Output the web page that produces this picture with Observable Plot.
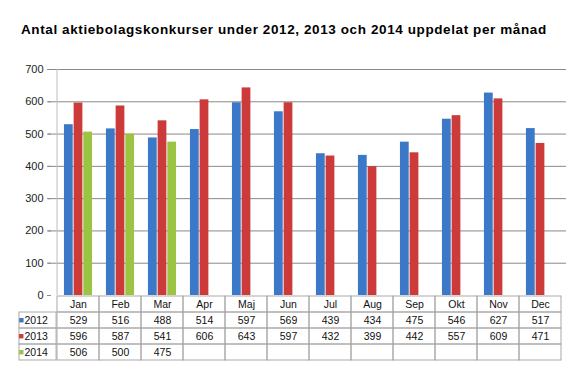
<!DOCTYPE html>
<html>
<head>
<meta charset="utf-8">
<script src="https://cdn.jsdelivr.net/npm/d3@7"></script>
<script src="https://cdn.jsdelivr.net/npm/@observablehq/plot@0.6"></script>
<style>
  html, body { margin: 0; padding: 0; background: white; }
  #wrap { position: relative; width: 583px; height: 373px; overflow: hidden; font-family: "Liberation Sans", Arial, sans-serif; }
  #title { position: absolute; left: 21px; top: 22px; font-size: 13.5px; letter-spacing: 0.6px; font-weight: bold; color: #000; white-space: nowrap; }
  #chart { position: absolute; left: 0; top: 50px; }
  #table { position: absolute; left: 0; top: 295px; }
</style>
</head>
<body>
<div id="wrap">
  <div id="title">Antal aktiebolagskonkurser under 2012, 2013 och 2014 uppdelat per månad</div>
  <div id="table"></div>
  <div id="chart"></div>
</div>
<script>
const months = ["Jan", "Feb", "Mar", "Apr", "Maj", "Jun", "Jul", "Aug", "Sep", "Okt", "Nov", "Dec"];
const years = ["2012", "2013", "2014"];
const v2012 = [529, 516, 488, 514, 597, 569, 439, 434, 475, 546, 627, 517];
const v2013 = [596, 587, 541, 606, 643, 597, 432, 399, 442, 557, 609, 471];
const v2014 = [506, 500, 475];
const yTicks = [0, 100, 200, 300, 400, 500, 600, 700];
const colors = ["#3b78c8", "#cd3a3a", "#9bc444"];
const series = [v2012, v2013, v2014];

const W = 583, ML = 51, MR = 17;
const bw = (W - ML - MR) / months.length;
const barW = 9.67;
const groupGap = (bw - 3 * barW) / 2;
const font = "Liberation Sans, Arial, sans-serif";

// Chart
const barMarks = series.map((vals, k) =>
  Plot.barY(vals, {
    x: (d, i) => months[i],
    y: d => d,
    fill: colors[k],
    insetLeft: groupGap + k * barW,
    insetRight: bw - groupGap - (k + 1) * barW
  })
);

const chart = Plot.plot({
  width: W,
  height: 253,
  marginTop: 19,
  marginBottom: 8,
  marginLeft: ML,
  marginRight: MR,
  style: { background: "none", overflow: "visible", fontFamily: font, fontSize: "11px", color: "#222" },
  x: { domain: months, padding: 0, axis: null },
  y: { domain: [0, 700], axis: null },
  marks: [
    Plot.gridY(yTicks.filter(t => t > 0), { stroke: "#8a8a8a", strokeOpacity: 1, insetLeft: -3 }),
    Plot.axisY(yTicks, { tickSize: 4, tickPadding: 4, stroke: "#8a8a8a", label: null, fill: "#222" }),
    Plot.ruleX([months[0]], { dx: -bw / 2, stroke: "#bdbdbd" }),
    ...barMarks
  ]
});
document.getElementById("chart").appendChild(chart);

// Data table
const rows = ["hdr", ...years];
const cells = d3.cross(rows, months).map(([r, m]) => ({ r, m }));
const textMarks = series.map((vals, k) =>
  Plot.text(vals, { x: (d, i) => months[i], y: () => years[k], text: d => String(d), fill: "#111" })
);
const legendMarks = years.flatMap((yr, k) => [
  Plot.text([yr], { y: d => d, frameAnchor: "left", dx: -33, text: () => "■", fill: colors[k], fontSize: 9 }),
  Plot.text([yr], { y: d => d, frameAnchor: "left", dx: -27, textAnchor: "start", text: d => d, fill: "#111" })
]);

const table = Plot.plot({
  width: W,
  height: 67,
  marginTop: 0,
  marginBottom: 1,
  marginLeft: ML,
  marginRight: MR,
  style: { background: "none", overflow: "visible", fontFamily: font, fontSize: "10.5px" },
  x: { domain: months, padding: 0, axis: null },
  y: { domain: rows, padding: 0, axis: null },
  marks: [
    Plot.cell(cells, { x: "m", y: "r", fill: "none", stroke: "#a9a9a9", inset: 0 }),
    Plot.cell(years, { x: () => months[0], y: d => d, dx: -(ML - 13), fill: "none", stroke: "#a9a9a9", insetTop: 0, insetBottom: 0, insetLeft: 0, insetRight: bw - (ML - 13) }),
    Plot.text(months, { x: d => d, y: () => "hdr", text: d => d, fill: "#111" }),
    ...textMarks,
    ...legendMarks
  ]
});
document.getElementById("table").appendChild(table);
</script>
</body>
</html>
